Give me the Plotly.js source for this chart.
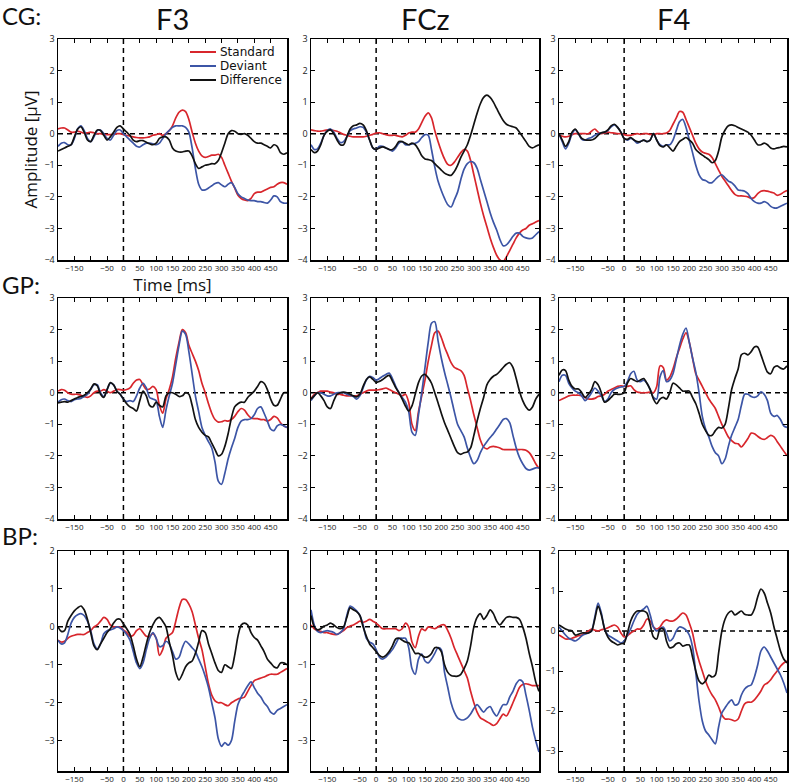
<!DOCTYPE html>
<html>
<head>
<meta charset="utf-8">
<script src="https://cdn.plot.ly/plotly-3.0.1.min.js"></script>
<style>html,body{margin:0;padding:0;background:#fff}#chart{width:793px;height:784px}</style>
</head>
<body>
<div id="chart"></div>
<script>
// ---------- data ----------
const time = [-200,-190,-180,-170,-160,-150,-140,-130,-120,-110,
  -100,-90,-80,-70,-60,-50,-40,-30,-20,-10,
  0,10,20,30,40,50,60,70,80,90,
  100,110,120,130,140,150,160,170,180,190,
  200,210,220,230,240,250,260,270,280,290,
  300,310,320,330,340,350,360,370,380,390,
  400,410,420,430,440,450,460,470,480,490,500];

const groups = ['CG:', 'GP:', 'BP:'];
const electrodes = ['F3', 'FCz', 'F4'];
const seriesNames = ['Standard', 'Deviant', 'Difference'];
const xTickVals = [-150,-100,-50,0,50,100,150,200,250,300,350,400,450];
const xTickText = ['\u2212150','','\u221250','0','50','100','150','200','250','300','350','400','450'];
const yTickValsTall = [-4,-3,-2,-1,0,1,2,3];
const yTickTextTall = ['\u22124','\u22123','\u22122','\u22121','0','1','2','3'];
const yTickValsShort = [-3,-2,-1,0,1,2];
const yTickTextShort = ['\u22123','\u22122','\u22121','0','1','2'];
const xAxisTitle = 'Time [ms]';
const yAxisTitle = 'Amplitude [\u03bcV]';

const cg_f3_standard = [0.15,0.18,0.18,0.12,0.05,0.05,0.08,0.05,0.02,0.03,
  0.05,0.03,0.0,0.0,-0.02,-0.03,-0.03,-0.02,0.0,0.0,
  -0.03,-0.05,-0.08,-0.1,-0.12,-0.13,-0.13,-0.12,-0.1,-0.05,
  -0.03,0.0,-0.05,0.0,0.1,0.25,0.5,0.68,0.75,0.7,
  0.45,0.05,-0.3,-0.55,-0.7,-0.75,-0.72,-0.68,-0.68,-0.65,
  -0.75,-1.0,-1.25,-1.5,-1.72,-1.95,-2.05,-2.1,-2.12,-2.05,
  -1.9,-1.85,-1.85,-1.8,-1.75,-1.7,-1.68,-1.6,-1.55,-1.55,-1.6];
const cg_f3_deviant = [-0.4,-0.3,-0.28,-0.35,-0.35,-0.15,0.15,0.25,0.1,-0.15,
  -0.25,-0.1,0.1,0.12,0.0,-0.15,-0.2,-0.05,0.1,0.12,
  0.0,-0.1,-0.2,-0.3,-0.4,-0.42,-0.35,-0.3,-0.3,-0.32,
  -0.35,-0.3,-0.15,0.0,0.1,0.2,0.25,0.25,0.25,0.2,
  0.05,-0.45,-1.1,-1.6,-1.78,-1.78,-1.72,-1.65,-1.58,-1.55,
  -1.62,-1.68,-1.6,-1.55,-1.7,-1.9,-2.0,-2.05,-2.1,-2.12,
  -2.12,-2.15,-2.15,-2.18,-2.2,-2.1,-1.97,-2.0,-2.15,-2.2,-2.2];
const cg_f3_difference = [-0.55,-0.5,-0.45,-0.4,-0.35,-0.1,0.15,0.22,0.05,-0.2,
  -0.25,-0.05,0.12,0.1,-0.05,-0.2,-0.1,0.05,0.2,0.25,
  0.15,0.05,-0.05,-0.2,-0.25,-0.22,-0.22,-0.27,-0.32,-0.35,
  -0.3,-0.15,-0.1,-0.1,-0.2,-0.45,-0.55,-0.58,-0.58,-0.55,
  -0.55,-0.7,-0.95,-1.1,-1.05,-1.0,-0.98,-0.95,-0.95,-0.85,
  -0.6,-0.3,0.0,0.1,0.08,0.0,-0.02,0.0,-0.05,-0.15,
  -0.25,-0.3,-0.3,-0.35,-0.4,-0.45,-0.35,-0.4,-0.6,-0.65,-0.6];

const cg_fcz_standard = [0.12,0.1,0.08,0.08,0.1,0.12,0.12,0.1,0.08,0.03,
  -0.02,-0.05,-0.08,-0.1,-0.1,-0.1,-0.1,-0.08,-0.05,-0.02,
  0.02,0.03,0.0,-0.03,-0.05,-0.05,-0.05,-0.08,-0.1,-0.05,
  0.02,0.05,0.05,0.15,0.35,0.55,0.66,0.5,0.1,-0.25,
  -0.55,-0.8,-0.97,-1.0,-0.9,-0.75,-0.6,-0.5,-0.55,-0.85,
  -1.3,-1.75,-2.2,-2.6,-2.95,-3.3,-3.6,-3.85,-4.0,-4.05,
  -3.9,-3.7,-3.5,-3.3,-3.15,-3.05,-3.0,-2.9,-2.85,-2.8,-2.75];
const cg_fcz_deviant = [-0.35,-0.5,-0.48,-0.3,-0.05,0.1,0.15,0.05,-0.15,-0.28,
  -0.25,-0.1,0.1,0.15,0.18,0.22,0.2,0.05,-0.2,-0.45,
  -0.5,-0.4,-0.4,-0.45,-0.5,-0.55,-0.45,-0.3,-0.25,-0.35,
  -0.35,-0.32,-0.3,-0.25,-0.12,-0.03,-0.05,-0.5,-1.05,-1.5,
  -1.8,-2.05,-2.25,-2.32,-2.1,-1.85,-1.45,-1.12,-0.95,-0.88,
  -0.92,-1.1,-1.45,-1.8,-2.15,-2.5,-2.8,-3.05,-3.35,-3.55,
  -3.52,-3.4,-3.25,-3.15,-3.15,-3.25,-3.3,-3.32,-3.3,-3.2,-3.1];
const cg_fcz_difference = [-0.5,-0.6,-0.55,-0.35,-0.05,0.08,0.12,0.0,-0.2,-0.35,
  -0.35,-0.1,0.15,0.25,0.28,0.33,0.28,0.1,-0.2,-0.45,
  -0.5,-0.45,-0.42,-0.45,-0.5,-0.5,-0.4,-0.25,-0.25,-0.3,
  -0.35,-0.3,-0.35,-0.5,-0.7,-0.8,-0.82,-0.85,-0.95,-1.05,
  -1.15,-1.25,-1.3,-1.32,-1.2,-1.0,-0.75,-0.55,-0.35,-0.05,
  0.3,0.65,0.95,1.15,1.22,1.15,1.0,0.8,0.6,0.42,
  0.3,0.25,0.22,0.18,0.05,-0.1,-0.25,-0.4,-0.45,-0.4,-0.35];

const cg_f4_standard = [-0.05,-0.08,-0.1,-0.08,-0.03,0.0,0.0,0.0,0.0,0.0,
  0.08,0.15,0.05,0.0,0.02,0.05,0.03,0.02,0.0,0.0,
  -0.03,-0.05,-0.05,-0.02,0.0,-0.02,0.0,0.0,-0.02,-0.03,
  0.0,0.0,0.0,0.02,0.1,0.3,0.5,0.7,0.68,0.45,
  0.2,-0.05,-0.3,-0.48,-0.58,-0.62,-0.65,-0.75,-0.95,-1.15,
  -1.35,-1.5,-1.65,-1.8,-1.92,-1.97,-1.97,-1.98,-2.0,-2.05,
  -2.02,-1.9,-1.82,-1.8,-1.82,-1.85,-1.88,-1.95,-1.92,-1.85,-1.8];
const cg_f4_deviant = [0.0,-0.25,-0.48,-0.3,0.0,0.12,0.0,-0.18,-0.2,-0.15,
  -0.12,-0.05,0.0,0.03,0.05,0.1,0.22,0.28,0.2,0.05,
  -0.15,-0.2,-0.15,-0.2,-0.3,-0.25,-0.2,-0.25,-0.2,0.0,
  -0.2,-0.35,-0.4,-0.35,-0.35,-0.2,0.1,0.38,0.45,0.2,
  -0.2,-0.6,-1.0,-1.3,-1.45,-1.48,-1.55,-1.55,-1.45,-1.35,
  -1.3,-1.4,-1.5,-1.55,-1.65,-1.78,-1.8,-1.82,-1.9,-2.05,
  -2.15,-2.2,-2.2,-2.15,-2.2,-2.3,-2.35,-2.35,-2.3,-2.25,-2.2];
const cg_f4_difference = [0.0,-0.2,-0.4,-0.25,0.05,0.15,0.0,-0.15,-0.2,-0.2,
  -0.2,-0.15,-0.05,0.03,0.05,0.12,0.25,0.3,0.2,0.05,
  -0.15,-0.18,-0.12,-0.2,-0.25,-0.25,-0.2,-0.25,-0.2,0.0,
  -0.2,-0.38,-0.42,-0.35,-0.45,-0.55,-0.4,-0.25,-0.18,-0.12,
  -0.2,-0.3,-0.5,-0.6,-0.68,-0.75,-0.82,-0.92,-0.85,-0.55,
  -0.1,0.12,0.25,0.28,0.25,0.2,0.15,0.1,0.05,-0.05,
  -0.2,-0.35,-0.35,-0.3,-0.35,-0.45,-0.48,-0.45,-0.43,-0.4,-0.42];

const gp_f3_standard = [0.05,0.1,0.08,0.0,-0.05,-0.05,-0.05,-0.08,-0.12,-0.15,
  -0.1,0.0,0.05,0.05,0.1,0.05,0.0,0.05,0.1,0.1,
  0.08,0.1,0.15,0.3,0.4,0.42,0.25,0.1,0.12,0.2,
  0.1,-0.4,-0.65,-0.2,0.1,0.5,1.1,1.6,2.0,1.9,
  1.5,1.25,1.0,0.7,0.3,0.0,-0.35,-0.65,-0.85,-0.93,
  -0.92,-0.88,-0.9,-0.85,-0.75,-0.6,-0.5,-0.55,-0.7,-0.8,
  -0.82,-0.82,-0.85,-0.85,-0.9,-0.85,-0.75,-0.8,-0.95,-1.05,-1.1];
const gp_f3_deviant = [-0.3,-0.22,-0.2,-0.25,-0.28,-0.22,-0.2,-0.18,-0.12,-0.05,
  0.1,0.25,0.25,0.0,-0.12,0.1,0.3,0.25,0.05,-0.05,
  -0.2,-0.28,-0.25,-0.28,-0.1,0.15,0.3,0.15,-0.15,-0.2,
  -0.25,-0.75,-1.1,-0.55,-0.1,0.3,0.9,1.5,1.95,1.85,
  1.3,0.6,-0.1,-0.6,-1.1,-1.35,-1.55,-1.75,-2.2,-2.8,
  -2.9,-2.55,-2.1,-1.75,-1.45,-1.1,-0.9,-0.85,-0.85,-0.82,
  -0.7,-0.5,-0.45,-0.65,-0.9,-1.15,-1.2,-1.05,-1.0,-1.05,-1.1];
const gp_f3_difference = [-0.32,-0.3,-0.28,-0.3,-0.25,-0.2,-0.15,-0.12,-0.08,0.0,
  0.12,0.28,0.22,-0.05,-0.15,0.1,0.32,0.25,0.05,-0.05,
  -0.2,-0.35,-0.45,-0.5,-0.58,-0.25,0.05,-0.1,-0.4,-0.45,
  -0.3,-0.4,-0.45,-0.1,0.0,0.0,-0.05,-0.12,-0.1,0.0,
  -0.05,-0.4,-0.85,-1.1,-1.25,-1.35,-1.4,-1.6,-1.8,-2.0,
  -1.95,-1.7,-1.3,-0.8,-0.45,-0.35,-0.3,-0.3,-0.15,-0.05,
  0.05,0.2,0.35,0.3,0.1,-0.2,-0.4,-0.4,-0.2,0.0,0.0];

const gp_fcz_standard = [-0.2,-0.05,0.0,0.05,0.05,0.05,0.02,0.0,-0.05,-0.05,
  -0.08,-0.1,-0.1,-0.1,-0.1,-0.05,0.0,0.05,0.08,0.08,
  0.08,0.1,0.12,0.15,0.1,0.05,0.0,-0.05,-0.1,-0.05,
  -0.3,-1.0,-1.2,-0.6,-0.1,0.4,1.0,1.5,1.9,1.95,
  1.75,1.45,1.2,0.95,0.8,0.75,0.7,0.55,0.15,-0.25,
  -0.7,-1.1,-1.5,-1.72,-1.78,-1.72,-1.7,-1.72,-1.75,-1.8,
  -1.8,-1.8,-1.8,-1.8,-1.8,-1.8,-1.82,-1.9,-2.05,-2.25,-2.4];
const gp_fcz_deviant = [-0.25,-0.1,0.0,0.0,-0.05,-0.1,-0.1,-0.05,0.0,0.0,
  0.0,-0.05,-0.08,-0.12,-0.2,-0.1,0.15,0.4,0.52,0.48,
  0.4,0.45,0.52,0.58,0.62,0.45,0.2,0.0,-0.15,-0.3,
  -0.6,-1.25,-1.35,-0.7,0.0,0.8,1.6,2.2,2.25,1.65,
  1.1,0.65,0.25,-0.15,-0.6,-1.0,-1.2,-1.4,-1.75,-2.05,
  -2.25,-2.15,-1.9,-1.7,-1.55,-1.42,-1.3,-1.15,-1.0,-0.85,
  -0.82,-0.95,-1.35,-1.75,-2.05,-2.25,-2.4,-2.45,-2.42,-2.38,-2.38];
const gp_fcz_difference = [-0.2,-0.1,0.0,-0.1,-0.25,-0.45,-0.5,-0.25,-0.05,0.0,
  0.02,0.0,-0.05,-0.1,-0.13,-0.05,0.2,0.42,0.5,0.42,
  0.33,0.36,0.42,0.5,0.55,0.37,0.16,0.0,-0.2,-0.42,
  -0.58,-0.42,-0.05,0.32,0.53,0.58,0.47,0.3,0.0,-0.32,
  -0.65,-0.95,-1.2,-1.45,-1.7,-1.9,-1.95,-1.9,-1.88,-1.75,
  -1.35,-0.9,-0.5,-0.15,0.25,0.42,0.52,0.58,0.68,0.8,
  0.9,0.95,0.8,0.45,0.05,-0.25,-0.45,-0.55,-0.45,-0.2,-0.05];

const gp_f4_standard = [-0.25,-0.2,-0.15,-0.1,-0.08,-0.08,-0.08,-0.1,-0.15,-0.2,
  -0.2,-0.18,-0.12,-0.1,-0.05,0.05,0.1,0.15,0.2,0.22,
  0.2,0.2,0.22,0.1,0.02,0.0,0.0,0.0,0.02,0.0,
  0.2,0.85,0.8,0.4,0.5,0.75,1.1,1.4,1.7,1.9,
  1.6,1.1,0.6,0.4,0.2,0.0,-0.2,-0.35,-0.5,-0.75,
  -1.0,-1.2,-1.4,-1.52,-1.6,-1.62,-1.72,-1.6,-1.45,-1.28,
  -1.3,-1.38,-1.45,-1.48,-1.42,-1.35,-1.4,-1.55,-1.7,-1.85,-2.0];
const gp_f4_deviant = [0.35,0.55,0.55,0.3,0.15,0.05,0.0,-0.1,-0.25,-0.15,
  0.0,0.15,0.05,-0.1,-0.28,-0.2,0.0,0.1,0.15,0.18,
  0.2,0.35,0.6,0.68,0.4,0.35,0.4,0.3,0.1,-0.15,
  -0.2,0.5,0.7,0.35,0.4,0.6,1.05,1.5,1.85,2.05,
  1.6,1.1,0.65,0.0,-0.75,-1.15,-1.4,-1.7,-1.9,-2.0,
  -2.25,-2.1,-1.7,-1.35,-1.1,-0.85,-0.4,-0.05,-0.05,-0.12,
  -0.15,-0.1,0.03,-0.05,-0.25,-0.65,-0.75,-0.72,-0.85,-1.05,-1.1];
const gp_f4_difference = [0.55,0.72,0.7,0.4,0.2,0.12,0.12,0.0,-0.15,-0.05,
  0.1,0.35,0.25,0.0,-0.3,-0.25,-0.15,-0.05,-0.05,-0.05,
  0.0,0.3,0.45,0.4,0.35,0.4,0.45,0.3,0.1,-0.2,
  -0.35,-0.2,-0.15,-0.2,0.0,0.3,0.25,0.15,0.05,0.05,
  0.05,-0.15,-0.35,-0.65,-1.0,-1.2,-1.35,-1.35,-1.2,-1.1,
  -1.12,-1.0,-0.5,0.1,0.45,0.75,1.2,1.25,1.2,1.3,
  1.45,1.45,1.2,0.9,0.65,0.6,0.8,0.85,0.78,0.75,0.85];

const bp_f3_standard = [-0.35,-0.4,-0.38,-0.3,-0.25,-0.22,-0.2,-0.2,-0.2,-0.15,
  -0.1,0.0,0.05,0.15,0.25,0.2,0.05,0.0,0.0,0.0,
  -0.08,-0.15,-0.25,-0.22,-0.1,-0.05,-0.15,-0.25,-0.25,-0.18,
  -0.3,-0.75,-0.6,-0.3,-0.22,-0.15,0.15,0.5,0.72,0.72,
  0.6,0.4,0.05,-0.3,-0.6,-1.05,-1.5,-1.8,-1.95,-2.0,
  -2.0,-2.05,-2.08,-2.0,-1.95,-1.9,-1.88,-1.85,-1.7,-1.55,
  -1.42,-1.38,-1.35,-1.32,-1.28,-1.25,-1.25,-1.25,-1.2,-1.15,-1.1];
const bp_f3_deviant = [-0.35,-0.45,-0.42,-0.2,0.1,0.25,0.32,0.35,0.3,0.15,
  -0.1,-0.45,-0.58,-0.45,-0.18,-0.1,-0.08,-0.05,0.0,-0.03,
  -0.1,-0.2,-0.35,-0.65,-0.95,-1.1,-0.95,-0.6,-0.3,-0.15,
  -0.3,-0.52,-0.5,-0.38,-0.45,-0.65,-0.85,-0.8,-0.55,-0.38,
  -0.45,-0.55,-0.65,-0.85,-1.05,-1.3,-1.6,-2.0,-2.4,-2.95,
  -3.15,-3.05,-3.12,-3.0,-2.5,-2.05,-1.85,-1.7,-1.55,-1.45,
  -1.6,-1.75,-1.85,-2.0,-2.1,-2.25,-2.3,-2.2,-2.15,-2.1,-2.05];
const bp_f3_difference = [0.0,-0.12,-0.1,0.15,0.3,0.42,0.5,0.55,0.45,0.2,
  -0.15,-0.5,-0.6,-0.45,-0.3,-0.15,-0.05,0.1,0.2,0.2,
  0.08,-0.05,-0.2,-0.5,-0.85,-1.05,-0.8,-0.45,-0.15,0.05,
  0.2,0.25,0.15,0.0,-0.4,-0.75,-1.2,-1.4,-1.25,-1.05,
  -0.95,-0.9,-0.7,-0.4,-0.1,-0.15,-0.45,-0.7,-0.95,-1.15,
  -1.2,-1.0,-1.05,-1.1,-0.75,-0.25,0.05,0.1,0.05,-0.15,
  -0.28,-0.35,-0.5,-0.65,-0.85,-0.95,-1.05,-1.08,-0.95,-0.95,-1.0];

const bp_fcz_standard = [0.05,-0.05,-0.1,-0.12,-0.15,-0.15,-0.18,-0.2,-0.2,-0.15,
  -0.1,-0.02,0.02,0.05,0.1,0.15,0.12,0.15,0.2,0.15,
  0.1,0.02,-0.05,-0.05,-0.05,-0.05,-0.05,-0.1,-0.05,0.1,
  0.0,-0.4,-0.55,-0.25,-0.05,-0.1,0.0,-0.02,-0.05,0.0,
  0.05,0.05,-0.1,-0.3,-0.55,-0.75,-0.95,-1.15,-1.35,-1.7,
  -2.0,-2.25,-2.4,-2.45,-2.5,-2.55,-2.6,-2.55,-2.42,-2.3,
  -2.35,-2.2,-2.0,-1.8,-1.6,-1.52,-1.5,-1.52,-1.55,-1.55,-1.55];
const bp_fcz_deviant = [0.45,0.05,-0.12,-0.15,-0.12,-0.1,-0.12,-0.15,-0.2,-0.15,
  -0.05,0.3,0.55,0.5,0.42,0.3,0.05,-0.3,-0.4,-0.45,
  -0.6,-0.8,-0.85,-0.8,-0.7,-0.6,-0.45,-0.3,-0.3,-0.3,
  -0.55,-1.1,-1.25,-0.85,-0.72,-0.9,-0.95,-0.85,-0.7,-0.55,
  -0.6,-1.2,-1.6,-2.0,-2.25,-2.4,-2.45,-2.45,-2.4,-2.3,
  -2.15,-2.05,-2.15,-2.25,-2.15,-2.1,-2.25,-2.35,-2.2,-2.05,
  -2.05,-1.85,-1.7,-1.5,-1.4,-1.45,-1.8,-2.2,-2.65,-3.0,-3.3];
const bp_fcz_difference = [0.3,0.0,-0.08,-0.05,0.02,0.05,0.1,0.05,-0.02,-0.05,
  0.0,0.25,0.5,0.45,0.4,0.3,0.0,-0.25,-0.45,-0.55,
  -0.65,-0.75,-0.8,-0.75,-0.65,-0.5,-0.32,-0.3,-0.35,-0.4,
  -0.42,-0.55,-0.7,-0.7,-0.75,-0.8,-0.78,-0.7,-0.55,-0.55,
  -0.65,-1.0,-1.2,-1.28,-1.3,-1.3,-1.25,-1.1,-0.9,-0.5,
  0.0,0.25,0.35,0.2,0.3,0.45,0.35,0.15,0.05,0.15,
  0.25,0.27,0.25,0.25,0.2,0.0,-0.3,-0.7,-1.05,-1.45,-1.7];

const bp_f4_standard = [-0.1,-0.15,-0.2,-0.2,-0.18,-0.15,-0.12,-0.1,-0.05,0.0,
  0.05,0.02,0.0,0.03,0.05,0.08,0.12,0.15,0.1,-0.05,
  -0.15,-0.12,-0.05,0.0,0.05,0.05,0.15,0.3,0.25,0.1,
  0.05,0.1,0.22,0.28,0.25,0.25,0.3,0.38,0.45,0.4,
  0.2,-0.05,-0.45,-0.75,-1.0,-1.25,-1.45,-1.6,-1.72,-1.9,
  -2.1,-2.2,-2.2,-2.22,-2.25,-2.2,-2.0,-1.82,-1.78,-1.78,
  -1.72,-1.62,-1.5,-1.35,-1.3,-1.22,-1.1,-1.0,-0.88,-0.8,-0.75];
const bp_f4_deviant = [0.1,0.0,-0.1,-0.18,-0.22,-0.25,-0.2,-0.12,-0.08,-0.05,
  0.0,0.35,0.7,0.45,0.05,-0.1,-0.15,-0.2,-0.25,-0.3,
  -0.25,-0.1,0.05,0.25,0.42,0.5,0.55,0.62,0.4,0.1,
  0.0,0.05,0.1,-0.05,-0.25,-0.18,0.0,0.1,0.08,0.02,
  -0.1,-0.4,-1.05,-1.75,-2.25,-2.5,-2.6,-2.72,-2.82,-2.4,
  -2.05,-1.92,-1.8,-1.72,-1.85,-1.82,-1.6,-1.45,-1.38,-1.35,
  -1.15,-0.85,-0.5,-0.4,-0.5,-0.65,-0.8,-0.95,-1.1,-1.3,-1.55];
const bp_f4_difference = [0.15,0.1,0.05,0.02,0.0,-0.1,-0.08,-0.05,-0.05,-0.05,
  0.0,0.3,0.62,0.4,0.05,-0.15,-0.25,-0.3,-0.35,-0.32,
  -0.3,-0.05,0.25,0.42,0.5,0.5,0.5,0.45,0.15,-0.15,
  -0.2,0.05,0.05,-0.25,-0.42,-0.4,-0.32,-0.3,-0.38,-0.35,
  -0.35,-0.65,-1.0,-1.25,-1.32,-1.25,-1.1,-1.15,-1.1,-0.55,
  0.0,0.3,0.45,0.5,0.4,0.45,0.5,0.42,0.4,0.4,
  0.55,0.85,1.05,0.95,0.7,0.45,0.1,-0.2,-0.5,-0.7,-0.8];

// ---------- assembly ----------
const panels = [
  [cg_f3_standard, cg_f3_deviant, cg_f3_difference],
  [cg_fcz_standard, cg_fcz_deviant, cg_fcz_difference],
  [cg_f4_standard, cg_f4_deviant, cg_f4_difference],
  [gp_f3_standard, gp_f3_deviant, gp_f3_difference],
  [gp_fcz_standard, gp_fcz_deviant, gp_fcz_difference],
  [gp_f4_standard, gp_f4_deviant, gp_f4_difference],
  [bp_f3_standard, bp_f3_deviant, bp_f3_difference],
  [bp_fcz_standard, bp_fcz_deviant, bp_fcz_difference],
  [bp_f4_standard, bp_f4_deviant, bp_f4_difference]
];

const W = 793, H = 784;
const colPx = [[58, 287], [311, 539], [559, 787]];
const rowPx = [[39, 260], [298, 519], [551, 771]];
const colors = ['#d8262c', '#3c55a6', '#121212'];
const FONT = 'Open Sans, Noto Sans, sans-serif';
const HEAD_FONT = 'Lato, Open Sans, sans-serif';
const LEG_FONT = 'DejaVu Sans, sans-serif';

const traces = [];
const layout = {
  width: W, height: H,
  margin: {l: 0, r: 0, t: 0, b: 0},
  paper_bgcolor: '#fff', plot_bgcolor: '#fff',
  font: {family: FONT, color: '#111'},
  showlegend: false,
  shapes: [],
  annotations: []
};

for (let k = 0; k < 9; k++) {
  const r = Math.floor(k / 3), c = k % 3;
  const xid = k === 0 ? 'x' : 'x' + (k + 1);
  const yid = k === 0 ? 'y' : 'y' + (k + 1);
  const xkey = k === 0 ? 'xaxis' : 'xaxis' + (k + 1);
  const ykey = k === 0 ? 'yaxis' : 'yaxis' + (k + 1);
  const shortRow = r === 2;
  let yRange = [-4, 3];
  if (shortRow) yRange = (c === 2) ? [-3.5, 2] : [-3.8, 2];

  layout[xkey] = {
    domain: [colPx[c][0] / W, colPx[c][1] / W],
    range: [-200, 500], anchor: yid,
    tickmode: 'array', tickvals: xTickVals, ticktext: xTickText, tickangle: 0,
    ticks: 'inside', ticklen: 4, tickwidth: 1, tickcolor: '#000',
    showline: true, linecolor: '#000', linewidth: 1.5, mirror: 'ticks',
    showgrid: false, zeroline: false, fixedrange: true,
    tickfont: {family: FONT, size: 8, color: '#222'}
  };
  layout[ykey] = {
    domain: [1 - rowPx[r][1] / H, 1 - rowPx[r][0] / H],
    range: yRange, anchor: xid,
    tickmode: 'array',
    tickvals: shortRow ? yTickValsShort : yTickValsTall,
    ticktext: shortRow ? yTickTextShort : yTickTextTall,
    ticks: 'inside', ticklen: 4, tickwidth: 1, tickcolor: '#000',
    showline: true, linecolor: '#000', linewidth: 1.5, mirror: 'ticks',
    showgrid: false, zeroline: false, fixedrange: true,
    tickfont: {family: FONT, size: 9, color: '#222'}
  };
  if (k === 0) {
    layout[xkey].title = {text: xAxisTitle, font: {family: FONT, size: 17, color: '#111'}, standoff: 2};
    layout[ykey].title = {text: yAxisTitle, font: {family: FONT, size: 17, color: '#111'}, standoff: 2};
  }

  layout.shapes.push({type: 'line', xref: xid + ' domain', yref: yid, x0: 0, x1: 1, y0: 0, y1: 0,
    line: {color: '#000', width: 1.5, dash: '5px,4px'}, layer: 'below'});
  layout.shapes.push({type: 'line', xref: xid, yref: yid + ' domain', x0: 0, x1: 0, y0: 0, y1: 1,
    line: {color: '#000', width: 1.5, dash: '5px,4px'}, layer: 'below'});

  panels[k].forEach((vals, s) => {
    traces.push({
      type: 'scatter', mode: 'lines', x: time, y: vals,
      xaxis: xid, yaxis: yid, name: seriesNames[s],
      showlegend: false,
      line: {color: colors[s], width: 1.7, shape: 'spline', smoothing: 0.8},
      hoverinfo: 'skip'
    });
  });
}

// legend drawn inside the first panel (tight MATLAB-style spacing)
seriesNames.forEach((name, s) => {
  const yPx = 52 + 14 * s;
  layout.shapes.push({type: 'line', xref: 'paper', yref: 'paper',
    x0: 190 / W, x1: 216 / W, y0: 1 - yPx / H, y1: 1 - yPx / H,
    line: {color: colors[s], width: 2}});
  layout.annotations.push({text: name, xref: 'paper', yref: 'paper',
    x: 219 / W, y: 1 - yPx / H, xanchor: 'left', yanchor: 'middle', showarrow: false,
    borderpad: 0, font: {family: LEG_FONT, size: 12, color: '#111'}});
});

// column titles
electrodes.forEach((e, c) => {
  layout.annotations.push({
    text: e, xref: 'paper', yref: 'paper',
    x: (colPx[c][0] + colPx[c][1]) / 2 / W, y: 1,
    xanchor: 'center', yanchor: 'top', showarrow: false, borderpad: 0,
    font: {family: HEAD_FONT, size: 29, color: '#111'}
  });
});
// row labels (box top in px)
const rowLabelTop = [0, 269, 520];
groups.forEach((g, r) => {
  layout.annotations.push({
    text: g, xref: 'paper', yref: 'paper',
    x: 1 / W, y: 1 - rowLabelTop[r] / H,
    xanchor: 'left', yanchor: 'top', showarrow: false, borderpad: 0,
    font: {family: HEAD_FONT, size: 24, color: '#111'}
  });
});

Plotly.newPlot('chart', traces, layout, {displayModeBar: false, staticPlot: true});
</script>
</body>
</html>
